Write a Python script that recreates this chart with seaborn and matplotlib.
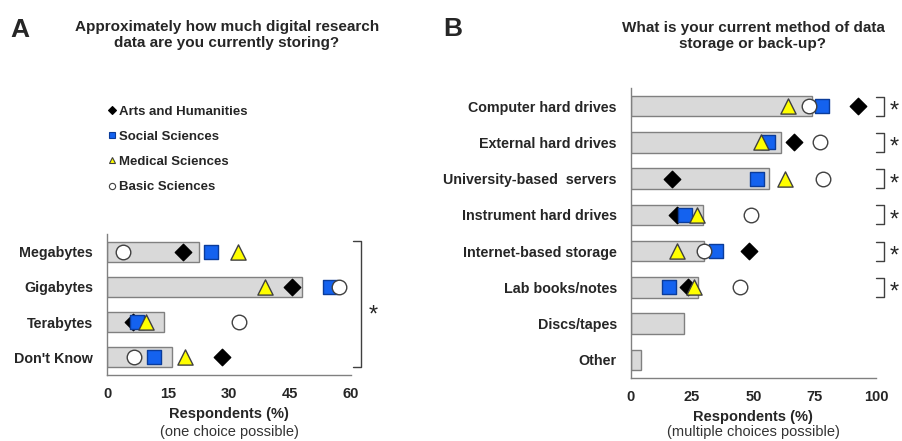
import numpy as np
import pandas as pd
import matplotlib
matplotlib.use("Agg")
import matplotlib.pyplot as plt
import seaborn as sns
from matplotlib.lines import Line2D

# panel A data: amount of data stored (%)
size_cats = ["Megabytes", "Gigabytes", "Terabytes", "Don't Know"]
size_overall = [22.5, 48.0, 14.0, 16.0]
size_arts = [18.8, 45.4, 6.5, 28.4]
size_social = [25.6, 54.8, 7.3, 11.5]
size_medical = [32.3, 38.8, 9.7, 19.3]
size_basic = [4.0, 57.0, 32.4, 6.7]

# panel B data: storage method (%)
storage_cats = ["Computer hard drives", "External hard drives", "University-based  servers",
                "Instrument hard drives", "Internet-based storage", "Lab books/notes",
                "Discs/tapes", "Other"]
storage_overall = [73.8, 61.3, 56.5, 29.6, 29.9, 27.3, 21.7, 4.2]
storage_arts = [92.5, 66.7, 16.7, 19.0, 48.3, 23.5, np.nan, np.nan]
storage_social = [77.9, 56.1, 51.4, 22.1, 34.8, 15.6, np.nan, np.nan]
storage_medical = [64.0, 53.1, 62.9, 27.2, 18.7, 25.9, np.nan, np.nan]
storage_basic = [72.8, 77.2, 78.5, 49.0, 29.9, 44.6, np.nan, np.nan]
storage_signif = [0, 1, 2, 3, 4, 5]

fields = ["Arts and Humanities", "Social Sciences", "Medical Sciences", "Basic Sciences"]
field_style = {
    "Arts and Humanities": dict(marker="D", color="black", edge="black", s=70),
    "Social Sciences": dict(marker="s", color="#1462ef", edge="#0b3c9a", s=95),
    "Medical Sciences": dict(marker="^", color="#ffff00", edge="#404040", s=120),
    "Basic Sciences": dict(marker="o", color="white", edge="#404040", s=110),
}

GRAY = "#808080"


def long_df(cats, series):
    rows = []
    for name, vals in zip(fields, series):
        for c, v in zip(cats, vals):
            if not np.isnan(v):
                rows.append({"cat": c, "value": v, "field": name})
    return pd.DataFrame(rows)


def panel(ax, cats, overall, series, xmax, xticks):
    bars = pd.DataFrame({"cat": cats, "value": overall})
    sns.barplot(data=bars, x="value", y="cat", orient="h", color="#d9d9d9",
                edgecolor=GRAY, linewidth=1.0, width=0.57, ax=ax, saturation=1)
    pts = long_df(cats, series)
    for name in fields:
        st = field_style[name]
        sub = pts[pts["field"] == name]
        ax.scatter(sub["value"], [cats.index(c) for c in sub["cat"]],
                   marker=st["marker"], s=st["s"], c=st["color"],
                   edgecolors=st["edge"], linewidths=1.0, zorder=3, clip_on=False)
    n = len(cats)
    ax.set_xlim(0, xmax)
    ax.set_ylim(n - 0.5, -0.5)
    ax.set_xticks(xticks)
    ax.set_xticklabels([str(t) for t in xticks], fontweight="bold", fontsize=10.5)
    ax.set_yticks(range(n))
    ax.set_yticklabels(cats, fontweight="bold", fontsize=10.3)
    ax.set_yticks(np.arange(-0.5, n), minor=True)
    ax.tick_params(axis="y", which="major", length=0, pad=10)
    ax.tick_params(axis="y", which="minor", length=4, color=GRAY, direction="out")
    ax.tick_params(axis="x", length=4, color=GRAY, direction="out", pad=5)
    ax.set_ylabel("")
    ax.set_xlabel("Respondents (%)", fontweight="bold", fontsize=10.5, labelpad=4)
    for side in ["top", "right"]:
        ax.spines[side].set_visible(False)
    for side in ["left", "bottom"]:
        ax.spines[side].set_color(GRAY)
        ax.spines[side].set_linewidth(1.0)


fig = plt.figure(figsize=(9.03, 4.41), dpi=100)
sns.set_style("white")
plt.rcParams["font.family"] = ["Liberation Sans", "DejaVu Sans"]

ax_a = fig.add_axes([0.1185, 0.1497, 0.2702, 0.3197])
panel(ax_a, size_cats, size_overall,
      [size_arts, size_social, size_medical, size_basic], 60, [0, 15, 30, 45, 60])
ax_a.text(0.5, -0.355, "(one choice possible)", transform=ax_a.transAxes,
          ha="center", va="top", fontsize=10.5, color="#333333")

ax_b = fig.add_axes([0.6985, 0.1429, 0.2717, 0.6576])
panel(ax_b, storage_cats, storage_overall,
      [storage_arts, storage_social, storage_medical, storage_basic], 100, [0, 25, 50, 75, 100])
ax_b.text(0.5, -0.163, "(multiple choices possible)", transform=ax_b.transAxes,
          ha="center", va="top", fontsize=10.5, color="#333333")

# significance brackets
ax_a.plot([60.4, 62.5, 62.5, 60.4], [-0.3, -0.3, 3.27, 3.27], color="#404040",
          lw=1.0, clip_on=False)
ax_a.text(65.5, 1.8, "*", fontsize=17, ha="center", va="center")
for i in storage_signif:
    ax_b.plot([99.8, 103.4, 103.4, 99.8], [i - 0.26, i - 0.26, i + 0.26, i + 0.26],
              color="#404040", lw=1.0, clip_on=False)
    ax_b.text(107.5, i + 0.15, "*", fontsize=17, ha="center", va="center")

# legend
handles = [Line2D([], [], linestyle="none", marker=field_style[f]["marker"],
                  markerfacecolor=field_style[f]["color"],
                  markeredgecolor=field_style[f]["edge"], markersize=4.5,
                  markeredgewidth=0.8) for f in fields]
fig.legend(handles, fields, loc="upper left", bbox_to_anchor=(0.107, 0.787),
           frameon=False, handlelength=0.6, handletextpad=0.2, labelspacing=0.97,
           prop={"weight": "bold", "size": 9.5})

# titles
fig.text(227 / 903, 1 - 35 / 441,
         "Approximately how much digital research\ndata are you currently storing?",
         ha="center", va="center", fontsize=11, fontweight="bold", linespacing=1.15)
fig.text(753 / 903, 1 - 36 / 441, "What is your current method of data\nstorage or back-up?",
         ha="center", va="center", fontsize=11, fontweight="bold", linespacing=1.15)
fig.text(20 / 903, 1 - 30 / 441, "A", fontsize=19, fontweight="bold", ha="center", va="center")
fig.text(453 / 903, 1 - 29 / 441, "B", fontsize=19, fontweight="bold", ha="center", va="center")

fig.savefig("out.png", dpi=100)
